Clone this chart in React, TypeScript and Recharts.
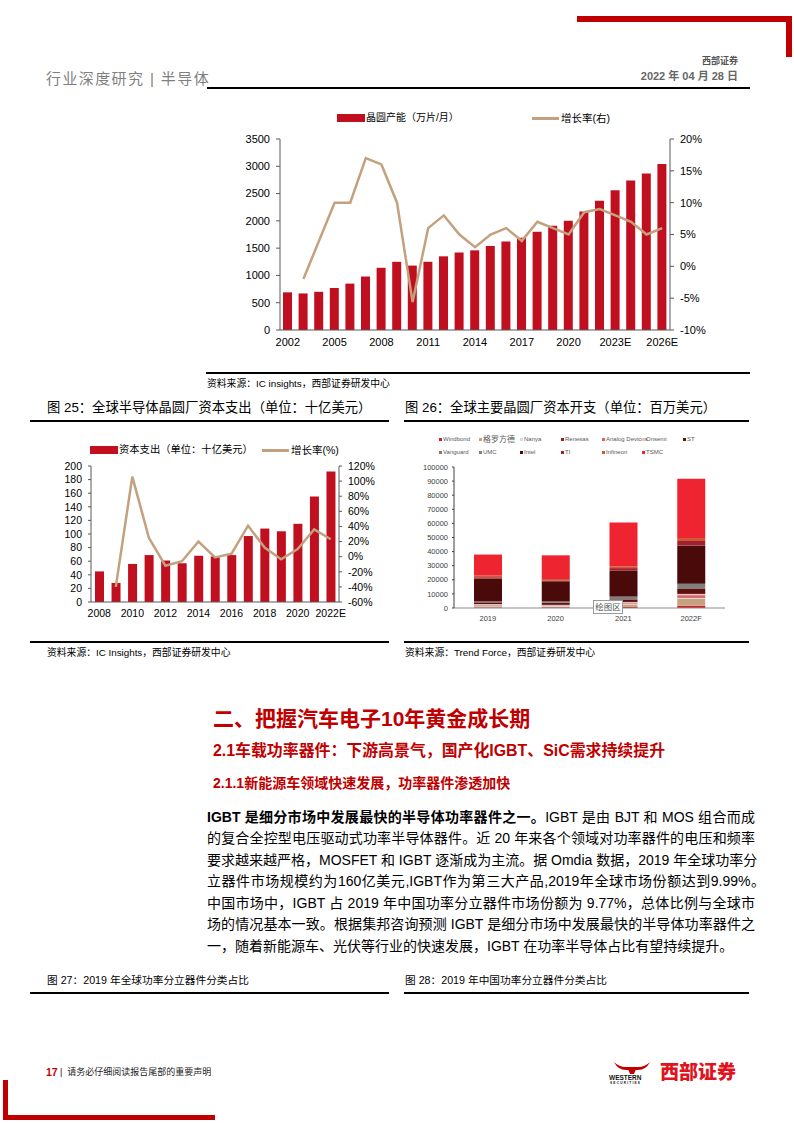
import React from "react";
import { Bar, BarChart, ComposedChart, Line, XAxis, YAxis } from "recharts";

// 图24（上）：全球晶圆产能及增长率
const capYears = [
  "2002", "2003", "2004", "2005", "2006", "2007", "2008", "2009", "2010", "2011",
  "2012", "2013", "2014", "2015", "2016", "2017", "2018", "2019", "2020", "2021",
  "2022", "2023E", "2024E", "2025E", "2026E",
];
const capValues = [
  690, 670, 700, 770, 850, 980, 1140, 1250, 1180, 1250, 1350, 1420, 1460, 1540, 1620,
  1690, 1800, 1910, 2000, 2170, 2370, 2560, 2740, 2870, 3040,
];
const capGrowth = [
  null, -2, 4, 10, 10, 17, 16, 10, -5.6, 6, 8, 5, 3, 5, 6, 4, 7, 6, 5, 8.5, 9, 8, 7, 5, 6,
];
const capLeftTicks = [0, 500, 1000, 1500, 2000, 2500, 3000, 3500];
const capRightTicks = [-10, -5, 0, 5, 10, 15, 20];

// 图25：全球半导体晶圆厂资本支出
const capexYears = [
  "2008", "2009", "2010", "2011", "2012", "2013", "2014", "2015", "2016", "2017",
  "2018", "2019", "2020", "2021", "2022E",
];
const capexValues = [45, 28, 56, 69, 61, 57, 68, 67, 69, 97, 108, 104, 115, 155, 192];
const capexGrowth = [null, -40, 106, 25, -12, -6, 20, -1, 4, 41, 12, -3.5, 10, 36, 23];
const capexLeftTicks = [0, 20, 40, 60, 80, 100, 120, 140, 160, 180, 200];
const capexRightTicks = [-60, -40, -20, 0, 20, 40, 60, 80, 100, 120];

// 图26：全球主要晶圆厂资本开支（百万美元）
const fabYears = ["2019", "2020", "2021", "2022F"];
const fabCompanies = [
  "Windbond", "格罗方德", "Nanya", "Renesas", "Analog Devices", "Onsemi", "ST",
  "Vanguard", "UMC", "Intel", "TI", "Infineon", "TSMC",
];
const fabColors = [
  "#D0202A", "#C8A27C", "#D9D9D9", "#962020", "#E0606A", "#F2C0C0", "#5E1010",
  "#8E7A62", "#7F7F7F", "#4A0A0A", "#A02030", "#D05A35", "#EE2430",
];
const windbond = [400, 500, 800, 1600];
const globalfoundries = [800, 500, 1700, 4800];
const nanya = [600, 500, 800, 1000];
const renesas = [200, 150, 300, 400];
const analogDevices = [300, 200, 300, 1300];
const onsemi = [500, 400, 400, 900];
const st = [1200, 1300, 1800, 3500];
const vanguard = [100, 100, 200, 700];
const umc = [600, 1000, 1800, 3000];
const intel = [16200, 14300, 18500, 27000];
const ti = [900, 600, 1700, 3300];
const infineon = [1200, 1000, 1300, 2200];
const tsmc = [14900, 16800, 31000, 42000];
const fabSeries = [
  windbond, globalfoundries, nanya, renesas, analogDevices, onsemi, st,
  vanguard, umc, intel, ti, infineon, tsmc,
];
const fabTicks = [0, 10000, 20000, 30000, 40000, 50000, 60000, 70000, 80000, 90000, 100000];

const paraBold = "IGBT 是细分市场中发展最快的半导体功率器件之一。";
const paraLines = [
  "IGBT 是由 BJT 和 MOS 组合而成",
  "的复合全控型电压驱动式功率半导体器件。近 20 年来各个领域对功率器件的电压和频率",
  "要求越来越严格，MOSFET 和 IGBT 逐渐成为主流。据 Omdia 数据，2019 年全球功率分",
  "立器件市场规模约为160亿美元,IGBT作为第三大产品,2019年全球市场份额达到9.99%。",
  "中国市场中，IGBT 占 2019 年中国功率分立器件市场份额为 9.77%，总体比例与全球市",
  "场的情况基本一致。根据集邦咨询预测 IGBT 是细分市场中发展最快的半导体功率器件之",
  "一，随着新能源车、光伏等行业的快速发展，IGBT 在功率半导体占比有望持续提升。",
];
const paraWidths = [548, 548, 548, 558, 548, 548, 518];

const SANS = "'Liberation Sans', Arial, 'Noto Sans CJK SC', sans-serif";
const CJK = "'Liberation Sans', 'Noto Sans CJK SC', sans-serif";
const RED = "#C0101F";
const TAN = "#C3A17E";
const HEAD_RED = "#C00000";

const capData = capYears.map((year, i) => ({ year, cap: capValues[i], growth: capGrowth[i] }));
const capexData = capexYears.map((year, i) => ({ year, capex: capexValues[i], growth: capexGrowth[i] }));
const fabData = fabYears.map((year, i) => {
  const row: Record<string, string | number> = { year };
  fabCompanies.forEach((c, k) => (row[c] = fabSeries[k][i]));
  return row;
});

function Txt({
  x, y, size, children, color = "#000", bold = false, family = CJK, style = {},
}: {
  x: number; y: number; size: number; children: React.ReactNode; color?: string;
  bold?: boolean; family?: string; style?: React.CSSProperties;
}) {
  const lh = Math.round(size * 1.4);
  return (
    <div
      style={{
        position: "absolute", left: x, top: y - lh / 2, lineHeight: `${lh}px`, fontSize: size,
        color, fontWeight: bold ? 700 : 400, fontFamily: family, whiteSpace: "nowrap", ...style,
      }}
    >
      {children}
    </div>
  );
}

function Rule({ x, y, w, h = 1.5, color = "#000" }: { x: number; y: number; w: number; h?: number; color?: string }) {
  return <div style={{ position: "absolute", left: x, top: y, width: w, height: h, background: color }} />;
}

function LegendBar({ x, y, label, size }: { x: number; y: number; label: string; size: number }) {
  return (
    <>
      <div style={{ position: "absolute", left: x, top: y - 4, width: 28, height: 8, background: RED }} />
      <Txt x={x + 29} y={y} size={size}>{label}</Txt>
    </>
  );
}

function LegendLine({ x, y, label, size }: { x: number; y: number; label: string; size: number }) {
  return (
    <>
      <div style={{ position: "absolute", left: x, top: y - 1.5, width: 27, height: 3, background: TAN }} />
      <Txt x={x + 29} y={y} size={size}>{label}</Txt>
    </>
  );
}

function CapacityChart() {
  return (
    <div style={{ position: "absolute", left: 200, top: 100 }}>
      <ComposedChart width={520} height={260} data={capData} margin={{ top: 39, right: 0, bottom: 0, left: 0 }} barSize={9}>
        <XAxis
          dataKey="year" interval={2} height={30} tickLine={false}
          axisLine={{ stroke: "#595959" }} tick={{ fontSize: 11, fill: "#000", fontFamily: SANS }}
        />
        <YAxis
          yAxisId="l" domain={[0, 3500]} ticks={capLeftTicks} interval={0} width={80} tickSize={4} tickMargin={6}
          axisLine={{ stroke: "#595959" }} tickLine={{ stroke: "#595959" }}
          tick={{ fontSize: 11, fill: "#000", fontFamily: SANS }}
        />
        <YAxis
          yAxisId="r" orientation="right" domain={[-10, 20]} ticks={capRightTicks} interval={0} width={50}
          tickSize={4} tickMargin={6} tickFormatter={(v: number) => `${v}%`}
          axisLine={{ stroke: "#595959" }} tickLine={{ stroke: "#595959" }}
          tick={{ fontSize: 11, fill: "#000", fontFamily: SANS }}
        />
        <Bar yAxisId="l" dataKey="cap" fill={RED} isAnimationActive={false} />
        <Line
          yAxisId="r" dataKey="growth" type="linear" stroke={TAN} strokeWidth={2.5}
          dot={false} isAnimationActive={false}
        />
      </ComposedChart>
    </div>
  );
}

function CapexChart() {
  return (
    <div style={{ position: "absolute", left: 40, top: 440 }}>
      <ComposedChart width={350} height={190} data={capexData} margin={{ top: 26, right: 0, bottom: 0, left: 0 }} barSize={9}>
        <XAxis
          dataKey="year" interval={1} height={28} tickLine={false}
          axisLine={{ stroke: "#595959" }} tick={{ fontSize: 10.5, fill: "#000", fontFamily: SANS }}
        />
        <YAxis
          yAxisId="l" domain={[0, 200]} ticks={capexLeftTicks} interval={0} width={51} tickSize={3} tickMargin={6}
          axisLine={{ stroke: "#595959" }} tickLine={{ stroke: "#595959" }}
          tick={{ fontSize: 10.5, fill: "#000", fontFamily: SANS }}
        />
        <YAxis
          yAxisId="r" orientation="right" domain={[-60, 120]} ticks={capexRightTicks} interval={0} width={51}
          tickSize={3} tickMargin={6} tickFormatter={(v: number) => `${v}%`}
          axisLine={{ stroke: "#595959" }} tickLine={{ stroke: "#595959" }}
          tick={{ fontSize: 10.5, fill: "#000", fontFamily: SANS }}
        />
        <Bar yAxisId="l" dataKey="capex" fill={RED} isAnimationActive={false} />
        <Line
          yAxisId="r" dataKey="growth" type="linear" stroke={TAN} strokeWidth={2.5}
          dot={false} isAnimationActive={false}
        />
      </ComposedChart>
    </div>
  );
}

function FabChart() {
  const legendX = [440, 480, 521, 562, 603, 643, 684];
  return (
    <>
      {fabCompanies.map((c, k) => {
        const row = k < 7 ? 0 : 1;
        const x = legendX[k < 7 ? k : k - 7];
        const y = row === 0 ? 439 : 452;
        return (
          <React.Fragment key={c}>
            <div style={{ position: "absolute", left: x - 1.5, top: y - 1.5, width: 3, height: 3, background: fabColors[k] }} />
            <Txt x={x + 3} y={y} size={c === "格罗方德" ? 8 : 6} color="#595959">{c}</Txt>
          </React.Fragment>
        );
      })}
      <div style={{ position: "absolute", left: 400, top: 460 }}>
        <BarChart width={330} height={170} data={fabData} margin={{ top: 7, right: 5, bottom: 0, left: 0 }} barSize={28}>
          <XAxis
            dataKey="year" height={22} tickLine={false} axisLine={{ stroke: "#8c8c8c" }}
            tick={{ fontSize: 7.5, fill: "#404040", fontFamily: SANS }}
          />
          <YAxis
            domain={[0, 100000]} ticks={fabTicks} interval={0} width={54} tickSize={2} tickMargin={4}
            axisLine={{ stroke: "#404040" }} tickLine={{ stroke: "#404040" }}
            tick={{ fontSize: 7.5, fill: "#404040", fontFamily: SANS }}
          />
          {fabCompanies.map((c, k) => (
            <Bar key={c} dataKey={c} stackId="a" fill={fabColors[k]} isAnimationActive={false} />
          ))}
        </BarChart>
      </div>
      <div
        style={{
          position: "absolute", left: 593, top: 600, width: 28, height: 12, border: "1px solid #9a9a9a",
          background: "#fff", fontSize: 8.5, lineHeight: "12px", textAlign: "center", color: "#555",
          fontFamily: CJK,
        }}
      >
        绘图区
      </div>
    </>
  );
}

export default function App() {
  return (
    <div
      lang="zh-CN"
      style={{ position: "absolute", left: 0, top: 0, width: 794, height: 1123, background: "#fff", fontFamily: CJK }}
    >
      {/* 页眉 */}
      <Rule x={577} y={16} w={215} h={6} color={HEAD_RED} />
      <Rule x={786} y={16} w={6} h={41} color={HEAD_RED} />
      <Txt x={738} y={61} size={9} bold color="#555" style={{ transform: "translateX(-100%)" }}>西部证券</Txt>
      <Txt x={738} y={76} size={11} bold color="#666" style={{ transform: "translateX(-100%)" }}>2022 年 04 月 28 日</Txt>
      <Txt x={46} y={78} size={15} color="#7f7f7f" style={{ letterSpacing: 1.4 }}>行业深度研究 | 半导体</Txt>
      <Rule x={207} y={87} w={543} h={1.5} />

      {/* 图24 */}
      <LegendBar x={337} y={118} label="晶圆产能（万片/月）" size={10} />
      <LegendLine x={532} y={118} label="增长率(右)" size={10.5} />
      <CapacityChart />
      <Rule x={206} y={372} w={544} h={1.5} />
      <Txt x={207} y={384} size={9.8}>资料来源：IC insights，西部证券研发中心</Txt>

      {/* 图25 / 图26 标题 */}
      <Txt x={47} y={407} size={13.3}>图 25：全球半导体晶圆厂资本支出（单位：十亿美元）</Txt>
      <Txt x={405} y={407} size={13.3}>图 26：全球主要晶圆厂资本开支（单位：百万美元）</Txt>
      <Rule x={30} y={420} w={359} h={1.5} />
      <Rule x={404} y={420} w={345} h={1.5} />

      <LegendBar x={90} y={450} label="资本支出（单位：十亿美元）" size={10.3} />
      <LegendLine x={262} y={450} label="增长率(%)" size={10.5} />
      <CapexChart />
      <FabChart />

      <Rule x={30} y={641} w={359} h={1.5} />
      <Rule x={404} y={641} w={345} h={1.5} />
      <Txt x={47} y={653} size={9.8}>资料来源：IC Insights，西部证券研发中心</Txt>
      <Txt x={405} y={653} size={9.8}>资料来源：Trend Force，西部证券研发中心</Txt>

      {/* 正文 */}
      <Txt x={213} y={718} size={21} bold color={HEAD_RED}>二、把握汽车电子10年黄金成长期</Txt>
      <Txt x={213} y={751} size={15.9} bold color={HEAD_RED}>2.1车载功率器件：下游高景气，国产化IGBT、SiC需求持续提升</Txt>
      <Txt x={213} y={783} size={14} bold color={HEAD_RED}>2.1.1新能源车领域快速发展，功率器件渗透加快</Txt>
      {paraLines.map((ln, i) => (
        <div
          key={i}
          style={{
            position: "absolute", left: 207, top: 805.7 + i * 21.55, width: paraWidths[i], height: 22,
            lineHeight: "22px", fontSize: 14, color: "#000", fontFamily: CJK, textAlign: "justify",
            textAlignLast: "justify", whiteSpace: "nowrap",
          }}
        >
          {i === 0 && <b>{paraBold}</b>}
          {ln}
        </div>
      ))}

      <Txt x={47} y={980} size={10.7}>图 27：2019 年全球功率分立器件分类占比</Txt>
      <Txt x={405} y={980} size={10.7}>图 28：2019 年中国功率分立器件分类占比</Txt>
      <Rule x={30} y={992} w={359} h={1.5} />
      <Rule x={404} y={992} w={345} h={1.5} />

      {/* 页脚 */}
      <Txt x={46} y={1072} size={10.5} bold color={HEAD_RED}>17</Txt>
      <Txt x={60} y={1072} size={9} color="#222">|&nbsp;&nbsp;请务必仔细阅读报告尾部的重要声明</Txt>
      <svg style={{ position: "absolute", left: 612, top: 1061 }} width={40} height={14}>
        <path d="M2 1 Q6 9 14 9 L26 9 Q34 9 38 1 Q33 6 26 6 L14 6 Q7 6 2 1 Z" fill={HEAD_RED} />
        <path d="M16 8 L24 8 L22 13 L18 13 Z" fill={HEAD_RED} />
      </svg>
      <Txt x={609} y={1077} size={6.5} bold color="#111" family={SANS}>WESTERN</Txt>
      <Txt x={610} y={1082.5} size={3.2} bold color="#111" family={SANS} style={{ letterSpacing: 1.2 }}>SECURITIES</Txt>
      <Txt x={660} y={1072} size={19} bold color="#E0141E" style={{ fontWeight: 900 }}>西部证券</Txt>
      <Rule x={3} y={1080} w={5} h={40} color={HEAD_RED} />
      <Rule x={3} y={1115} w={212} h={5} color={HEAD_RED} />
    </div>
  );
}
